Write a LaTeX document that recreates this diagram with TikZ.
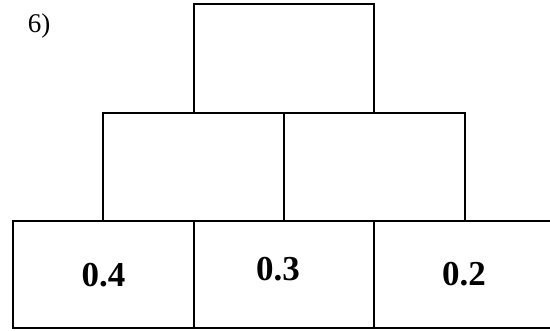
\documentclass[tikz,border=0pt]{standalone}
\usepackage{fontspec}
\setmainfont{Liberation Serif}
\begin{document}
\begin{tikzpicture}[x=1pt,y=-1pt,
  cell/.style={draw=black,line width=2.5pt,rectangle,inner sep=0pt,minimum width=#1},
  cell/.default=181pt,
  num/.style={font=\fontsize{35}{40}\selectfont\bfseries,inner sep=0pt},
  tag/.style={font=\fontsize{27}{30}\selectfont,inner sep=0pt}]
\useasboundingbox (0,0) rectangle (550,330);
\path[fill=white] (0,0) rectangle (550,330);
% top
\node[cell=180pt,minimum height=109pt] (t) at (284,58.5) {};
% middle
\node[cell=181pt,minimum height=108pt] (m1) at (193.5,167) {};
\node[cell=181pt,minimum height=108pt] (m2) at (374.5,167) {};
% bottom
\node[cell=181pt,minimum height=107pt] (b1) at (103.5,274.5) {};
\node[cell=180pt,minimum height=107pt] (b2) at (284,274.5) {};
\node[cell=180pt,minimum height=107pt] (b3) at (464,274.5) {};
% labels
\node[num] (l1) at (103.5,275) {0.4};
\node[num] (l2) at (278,269) {0.3};
\node[num] (l3) at (464,274.5) {0.2};
\node[tag] (n) at (39,26) {6)};
\end{tikzpicture}
\end{document}
